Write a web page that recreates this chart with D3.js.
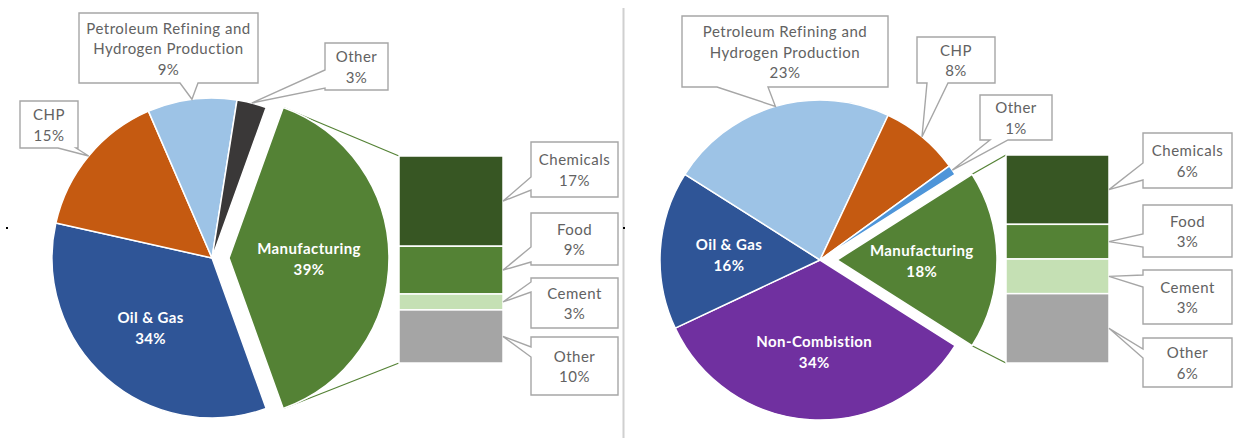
<!DOCTYPE html>
<html><head><meta charset="utf-8">
<script src="https://cdn.jsdelivr.net/npm/d3@7"></script>
<style>
html,body{margin:0;padding:0;background:#fff;}
svg{display:block;font-family:Lato,"Open Sans",sans-serif;}
</style></head><body>
<svg id="chart" width="1235" height="442"></svg>
<script>
// Sector shares, with manufacturing broken out into a stacked bar
const leftCategories = ["Manufacturing", "Oil & Gas", "CHP", "Petroleum Refining and Hydrogen Production", "Other"];
const leftValues = [39, 34, 15, 9, 3];
const leftBarCategories = ["Chemicals", "Food", "Cement", "Other"];
const leftBarValues = [17, 9, 3, 10];

const rightCategories = ["Manufacturing", "Non-Combistion", "Oil & Gas", "Petroleum Refining and Hydrogen Production", "CHP", "Other"];
const rightValues = [18, 34, 16, 23, 8, 1];
const rightBarCategories = ["Chemicals", "Food", "Cement", "Other"];
const rightBarValues = [6, 3, 3, 6];

const leftColors = ["#548235", "#2F5597", "#C55A11", "#9DC3E6", "#3A3838"];
const rightColors = ["#548235", "#7030A0", "#2F5597", "#9DC3E6", "#C55A11", "#4E95D9"];
const barColors = ["#375623", "#548235", "#C5E0B4", "#A5A5A5"];

// long names wrap onto two lines
const wrapLines = {
  "Petroleum Refining and Hydrogen Production": ["Petroleum Refining and", "Hydrogen Production"]
};

const svg = d3.select("#chart");
const fmtPct = v => v + "%";
const LINE = 20.5;

function calloutPath(b, edge, base, tip) {
  const [x, y, w, h] = b;
  const p = d3.path();
  p.moveTo(x, y); p.lineTo(x + w, y); p.lineTo(x + w, y + h);
  if (edge === "bottom") { p.lineTo(base[1], y + h); p.lineTo(tip[0], tip[1]); p.lineTo(base[0], y + h); }
  p.lineTo(x, y + h);
  if (edge === "left") { p.lineTo(x, base[1]); p.lineTo(tip[0], tip[1]); p.lineTo(x, base[0]); }
  p.closePath();
  return p.toString();
}

function drawCallout(g, spec, lines, tip) {
  g.append("path")
    .attr("d", calloutPath(spec.box, spec.edge, spec.base, tip))
    .attr("fill", "#fff").attr("stroke", "#A6A6A6").attr("stroke-width", 1.4)
    .attr("stroke-linejoin", "miter");
  const [x, y, w, h] = spec.box;
  const cy = y + h / 2;
  g.append("text")
    .attr("text-anchor", "middle").attr("fill", "#626262")
    .style("font-size", "15px").style("letter-spacing", "0.5px")
    .selectAll("tspan").data(lines).join("tspan")
    .attr("x", x + w / 2)
    .attr("y", (d, i) => cy + (i - (lines.length - 1) / 2) * LINE)
    .attr("dominant-baseline", "central")
    .text(d => d);
}

function drawPanel(cfg) {
  const g = svg.append("g");
  const total = d3.sum(cfg.values);
  const a0 = Math.PI / 2 - Math.PI * cfg.values[0] / total;
  const pie = d3.pie().sort(null).startAngle(a0).endAngle(a0 + 2 * Math.PI);
  const arcs = pie(cfg.values);
  const arc = d3.arc().innerRadius(0).outerRadius(cfg.r);

  const offsetOf = (d, i) => {
    if (i !== 0) return [0, 0];
    const m = (d.startAngle + d.endAngle) / 2;
    return [Math.sin(m) * cfg.explode, -Math.cos(m) * cfg.explode];
  };
  const at = (angle, rad, off) => [cfg.cx + off[0] + Math.sin(angle) * rad, cfg.cy + off[1] - Math.cos(angle) * rad];

  // stacked breakdown of the split slice
  const y = d3.scaleLinear().domain([0, d3.sum(cfg.barValues)]).range([cfg.bar.y0, cfg.bar.y1]);
  const stack = d3.cumsum(cfg.barValues);
  const segs = cfg.barValues.map((v, i) => ({ v, i, y0: y(stack[i] - v), y1: y(stack[i]) }));

  // connector lines from the split slice to the bar
  const split = arcs[0];
  const off0 = offsetOf(split, 0);
  const pTop = at(split.startAngle, cfg.r, off0);
  const pBot = at(split.endAngle, cfg.r, off0);
  g.append("line").attr("x1", pTop[0]).attr("y1", pTop[1]).attr("x2", cfg.bar.x).attr("y2", y.range()[0])
    .attr("stroke", "#548235").attr("stroke-width", 1.2);
  g.append("line").attr("x1", pBot[0]).attr("y1", pBot[1]).attr("x2", cfg.bar.x).attr("y2", y.range()[1])
    .attr("stroke", "#548235").attr("stroke-width", 1.2);

  // slices
  g.selectAll("path.slice").data(arcs).join("path")
    .attr("class", "slice")
    .attr("transform", (d, i) => {
      const o = offsetOf(d, i);
      return `translate(${cfg.cx + o[0]},${cfg.cy + o[1]})`;
    })
    .attr("d", arc)
    .attr("fill", (d, i) => cfg.colors[i])
    .attr("stroke", "#fff").attr("stroke-width", 1.5).attr("stroke-linejoin", "round");

  // bar segments
  g.selectAll("rect.seg").data(segs).join("rect")
    .attr("class", "seg")
    .attr("x", cfg.bar.x).attr("width", cfg.bar.w)
    .attr("y", d => d.y0).attr("height", d => d.y1 - d.y0)
    .attr("fill", d => barColors[d.i])
    .attr("stroke", "#fff").attr("stroke-width", 1.5);

  // labels inside slices
  arcs.forEach((d, i) => {
    const name = cfg.categories[i];
    const m = (d.startAngle + d.endAngle) / 2;
    if (cfg.inner[name] !== undefined) {
      const p = at(m, cfg.r * cfg.inner[name], offsetOf(d, i));
      const lines = [name, fmtPct(cfg.values[i])];
      g.append("text").attr("text-anchor", "middle").attr("fill", "#fff")
        .style("font-size", "15px").style("font-weight", "bold").style("letter-spacing", "0.4px")
        .selectAll("tspan").data(lines).join("tspan")
        .attr("x", p[0])
        .attr("y", (t, k) => p[1] + (k - 0.5) * 21)
        .attr("dominant-baseline", "central")
        .text(t => t);
    } else if (cfg.callouts[name]) {
      const tip = at(m, cfg.r, offsetOf(d, i));
      const lines = (wrapLines[name] || [name]).concat([fmtPct(cfg.values[i])]);
      drawCallout(g, cfg.callouts[name], lines, tip);
    }
  });

  // callouts for bar segments
  segs.forEach(s => {
    const tip = [cfg.bar.x + cfg.bar.w, (s.y0 + s.y1) / 2];
    const spec = cfg.barCallouts[s.i];
    drawCallout(g, { box: spec.box, edge: "left", base: spec.base }, [cfg.barCategories[s.i], fmtPct(s.v)], tip);
  });
}

drawPanel({
  categories: leftCategories, values: leftValues, colors: leftColors,
  barCategories: leftBarCategories, barValues: leftBarValues,
  cx: 212, cy: 258, r: 160, explode: 17,
  bar: { x: 399, w: 104, y0: 156, y1: 363 },
  inner: { "Manufacturing": 0.5, "Oil & Gas": 0.58 },
  callouts: {
    "CHP": { box: [20, 101, 58, 47], edge: "bottom", base: [58, 76] },
    "Petroleum Refining and Hydrogen Production": { box: [79, 13, 179, 70], edge: "bottom", base: [180, 198] },
    "Other": { box: [325, 43, 63, 47], edge: "left", base: [70, 88] }
  },
  barCallouts: [
    { box: [531, 142, 87, 55], base: [177, 190] },
    { box: [531, 213, 87, 52], base: [247, 262] },
    { box: [531, 278, 87, 50], base: [282, 292] },
    { box: [531, 337, 87, 58], base: [347, 357] }
  ]
});

drawPanel({
  categories: rightCategories, values: rightValues, colors: rightColors,
  barCategories: rightBarCategories, barValues: rightBarValues,
  cx: 820, cy: 260, r: 160, explode: 17,
  bar: { x: 1006, w: 103, y0: 155, y1: 363 },
  inner: { "Manufacturing": 0.53, "Non-Combistion": 0.57, "Oil & Gas": 0.57 },
  callouts: {
    "Petroleum Refining and Hydrogen Production": { box: [682, 16, 206, 71], edge: "bottom", base: [717, 768] },
    "CHP": { box: [917, 37, 78, 46], edge: "bottom", base: [927, 948] },
    "Other": { box: [980, 95, 72, 45], edge: "bottom", base: [990, 1008] }
  },
  barCallouts: [
    { box: [1143, 133, 89, 55], base: [163, 180] },
    { box: [1143, 205, 89, 52], base: [234, 247] },
    { box: [1143, 270, 89, 54], base: [275, 287] },
    { box: [1143, 338, 89, 49], base: [349, 358] }
  ]
});

// divider between the two panels
svg.append("line").attr("x1", 623.5).attr("x2", 623.5).attr("y1", 8).attr("y2", 438)
  .attr("stroke", "#D0D0D0").attr("stroke-width", 2);
svg.append("rect").attr("x", 6).attr("y", 227).attr("width", 2).attr("height", 2).attr("fill", "#000");
svg.append("rect").attr("x", 623).attr("y", 227).attr("width", 2).attr("height", 2).attr("fill", "#000");
</script>
</body></html>
